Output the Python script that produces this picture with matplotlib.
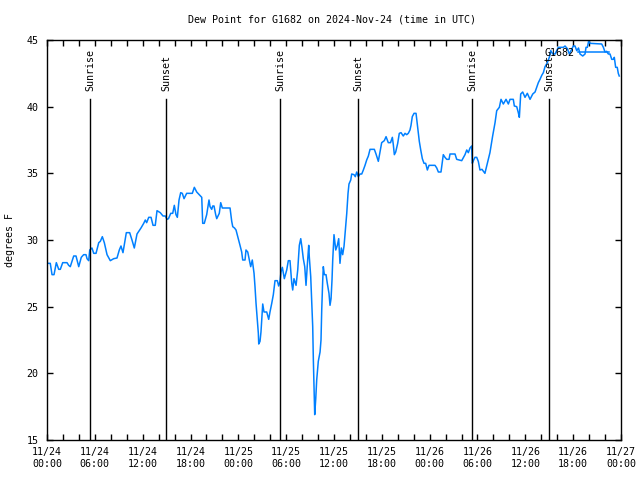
import numpy as np
import matplotlib
matplotlib.use("Agg")
import matplotlib.pyplot as plt

# time in hours since 2024-11-24 00:00 UTC, dew point in F
hours = [0.00, 0.41, 0.63, 0.88, 1.17, 1.47, 1.67, 1.97, 2.51, 2.72, 2.92, 3.35, 3.64, 3.98,
         4.30, 4.60, 4.89, 5.02, 5.23, 5.36, 5.64, 5.86, 6.15, 6.49, 6.69, 6.94, 7.19, 7.53,
         7.94, 8.37, 8.78, 9.07, 9.28, 9.53, 9.95, 10.37, 10.66, 10.95, 11.29, 11.79, 12.13,
         12.33, 12.50, 12.76, 13.05, 13.30, 13.58, 13.80, 14.21, 14.55, 14.84, 15.05,
         15.24, 15.52, 15.77, 15.97, 16.18, 16.35, 16.56, 16.77, 16.97, 17.19, 17.52, 18.23,
         18.48, 18.78, 19.10, 19.41, 19.53, 19.73, 20.03, 20.32, 20.45, 20.66, 20.79, 20.95,
         21.16, 21.29, 21.61, 21.79, 21.99, 22.96, 23.17, 23.30, 23.52, 23.71, 24.00, 24.21,
         24.42, 24.55, 24.84, 24.96, 25.18, 25.38, 25.55, 25.75, 25.97, 26.09, 26.22, 26.38,
         26.51, 26.56, 26.72, 26.84, 26.93, 27.06, 27.22, 27.56, 27.81, 27.97, 28.19, 28.39,
         28.60, 28.89, 29.06, 29.23,
         29.35, 29.52, 29.77, 30.07, 30.27, 30.48, 30.70, 30.82, 30.98, 31.24, 31.45, 31.65,
         31.83, 31.99, 32.15, 32.33, 32.49, 32.65, 32.83, 32.90, 33.08, 33.20, 33.33, 33.41,
         33.53, 33.58, 33.71, 33.83, 34.03, 34.25, 34.37, 34.46, 34.58, 34.66, 34.79, 35.00,
         35.16, 35.37, 35.50, 35.63, 35.75, 35.84, 36.00, 36.22, 36.42, 36.59, 36.75, 36.92,
         37.09, 37.26, 37.42, 37.60, 37.76, 37.88, 38.10, 38.22, 38.51, 38.67, 38.85, 39.05,
         39.26, 39.48, 39.68, 39.89, 40.10, 40.31,
         40.52, 41.06, 41.27, 41.56, 41.77, 41.98, 42.31, 42.53, 42.81, 43.09, 43.32, 43.44,
         43.57, 43.74, 43.99, 44.19, 44.41, 44.69, 44.91, 45.12, 45.32, 45.53, 45.66, 45.82,
         46.04, 46.29, 46.41, 46.58, 46.70, 46.88, 47.08, 47.29, 47.50, 47.71, 47.92, 48.67,
         48.89, 49.09, 49.42, 49.71, 49.92, 50.14, 50.43, 50.55, 51.18, 51.39, 52.02, 52.43,
         52.65, 52.85, 53.06, 53.27, 53.35, 53.52, 53.68, 53.90, 54.10, 54.31,
         54.56, 54.93, 55.22, 55.56, 55.90, 56.20, 56.41, 56.74, 56.95, 57.24, 57.58, 57.87,
         58.08, 58.49, 58.62, 58.92, 59.12, 59.25, 59.42, 59.67, 59.96, 60.25, 60.59, 60.93,
         61.22, 61.43, 61.63, 61.84, 62.06, 62.26, 62.47, 62.76, 63.01, 63.19, 63.44, 63.73,
         63.94, 64.14, 64.77, 64.98, 65.27, 65.52, 65.73, 66.02, 66.23, 66.45, 66.67, 66.86,
         67.20, 67.49, 67.61, 67.78, 67.95, 68.12, 69.58, 69.79, 69.99, 70.20, 70.41, 70.62,
         70.84, 71.04, 71.16, 71.33, 71.53, 71.66, 71.78]
dewpoint = [28.25, 28.25, 27.4, 27.4, 28.3, 27.8, 27.8, 28.3, 28.3, 28.1, 28.0, 28.8, 28.8, 28.0,
            28.7, 28.9, 28.9, 28.6, 28.45, 29.25, 29.4, 29.0, 29.0, 29.8, 29.9, 30.25, 29.8, 28.9,
            28.45, 28.6, 28.65, 29.25, 29.55, 29.05, 30.55, 30.55, 30.0, 29.4, 30.45, 30.9, 31.25,
            31.5, 31.3, 31.7, 31.7, 31.1, 31.1, 32.2, 32.05, 31.8, 31.8, 31.55,
            31.6, 32.0, 32.0, 32.6, 31.9, 31.7, 33.0, 33.55, 33.5, 33.1, 33.5, 33.5,
            33.95, 33.6, 33.4, 33.2, 31.25, 31.25, 31.9, 33.0, 32.5, 32.3, 32.55, 32.55,
            31.9, 31.6, 32.0, 32.8, 32.4, 32.4, 31.4, 31.0, 30.9, 30.75, 30.1, 29.6,
            29.1, 28.5, 28.5, 29.25, 29.1, 28.5, 28.0, 28.5, 27.5, 26.5, 25.25, 24.0,
            23.0, 22.2, 22.4, 23.1, 24.0, 25.2, 24.6, 24.6, 24.05, 24.6, 25.25, 25.9,
            26.95, 26.95, 26.55, 26.9,
            27.6, 27.95, 27.1, 27.75, 28.45, 28.45, 26.75, 26.25, 27.1, 26.6, 27.75, 29.6,
            30.1, 29.4, 28.6, 28.0, 26.6, 28.1, 29.6, 28.75, 27.25, 25.4, 23.5, 21.0,
            18.25, 16.9, 18.1, 19.5, 20.9, 21.6, 22.5, 24.75, 26.9, 28.0, 27.4, 27.4,
            26.75, 26.0, 25.1, 25.6, 27.0, 28.5, 30.4, 29.25, 29.6, 30.1, 28.25, 29.4,
            28.9, 29.55, 30.75, 32.0, 33.5, 34.2, 34.5, 34.95, 34.9, 34.75, 35.1, 34.75,
            34.95, 34.95, 35.25, 35.6, 36.0, 36.3,
            36.8, 36.8, 36.45, 35.9, 36.6, 37.3, 37.45, 37.75, 37.3, 37.3, 37.7, 37.15,
            36.4, 36.6, 37.25, 38.0, 38.05, 37.8, 38.0, 37.9, 38.0, 38.25, 38.6, 39.25,
            39.5, 39.5, 38.9, 38.0, 37.4, 36.75, 36.1, 35.75, 35.75, 35.25, 35.6, 35.6,
            35.4, 35.1, 35.1, 36.4, 36.2, 36.05, 36.05, 36.45, 36.45, 36.05, 35.95, 36.4,
            36.75, 36.55, 36.9, 37.05, 35.75, 36.0, 36.2, 36.2, 35.9, 35.25,
            35.3, 35.0, 35.7, 36.55, 37.8, 38.8, 39.7, 39.95, 40.55, 40.2, 40.55, 40.2,
            40.55, 40.55, 40.05, 40.0, 39.55, 39.2, 40.95, 41.1, 40.7, 41.0, 40.55, 40.95,
            41.1, 41.45, 41.8, 42.05, 42.35, 42.55, 43.0, 43.3, 43.7, 44.2, 43.95, 43.95,
            44.2, 44.45, 44.45, 44.55, 44.35, 43.95, 44.2, 44.55, 44.55, 44.2, 44.4, 43.95,
            43.8, 43.95, 44.45, 44.45, 44.95, 44.75, 44.7, 44.45, 44.1, 44.15, 43.95, 43.95,
            43.55, 43.55, 43.7, 42.95, 42.95, 42.5, 42.3]

# sunrise / sunset marks (hours since start)
sun_times = [5.39, 14.93, 29.23, 39.01, 53.31, 62.97]
sun_labels = ["Sunrise", "Sunset", "Sunrise", "Sunset", "Sunrise", "Sunset"]

tick_hours = [0, 6, 12, 18, 24, 30, 36, 42, 48, 54, 60, 66, 72]
tick_labels = ["11/24\n00:00", "11/24\n06:00", "11/24\n12:00", "11/24\n18:00",
               "11/25\n00:00", "11/25\n06:00", "11/25\n12:00", "11/25\n18:00",
               "11/26\n00:00", "11/26\n06:00", "11/26\n12:00", "11/26\n18:00",
               "11/27\n00:00"]

plt.rcParams['font.family'] = ['DejaVu Sans Mono']
plt.rcParams['font.size'] = 7.2

fig = plt.figure(figsize=(6.4, 4.8), dpi=100)
ax = fig.add_axes([47/640, 40/480, 574/640, 400/480])

ax.plot(hours, dewpoint, color='#0080ff', lw=1.1, label='G1682')

for t, lab in zip(sun_times, sun_labels):
    ax.plot([t, t], [15, 40.6], color='black', lw=1.0)
    ax.text(t, 0.873, lab, rotation=90, ha='center', va='bottom',
            transform=ax.get_xaxis_transform())

ax.set_xlim(0, 72)
ax.set_ylim(15, 45)
ax.set_xticks(tick_hours)
ax.set_xticklabels(tick_labels)
ax.set_xticks(np.arange(0, 73, 2), minor=True)
ax.set_yticks([15, 20, 25, 30, 35, 40, 45])
ax.tick_params(which='both', direction='in', length=4, width=1, top=True, right=True,
               color='black')
ax.tick_params(axis='x', pad=5)
ax.tick_params(axis='y', pad=6)
for s in ax.spines.values():
    s.set_linewidth(1.0)

ax.legend(loc='upper right', bbox_to_anchor=(0.993, 1.0), frameon=False,
          markerfirst=False, handlelength=3.1, handletextpad=0.3, borderaxespad=0.4)

fig.text(332/640, 1 - 19/480, "Dew Point for G1682 on 2024-Nov-24 (time in UTC)",
         ha='center', va='center')
fig.text(10/640, 0.5, "degrees F", rotation=90, ha='center', va='center')

fig.savefig("out.png", dpi=100)
